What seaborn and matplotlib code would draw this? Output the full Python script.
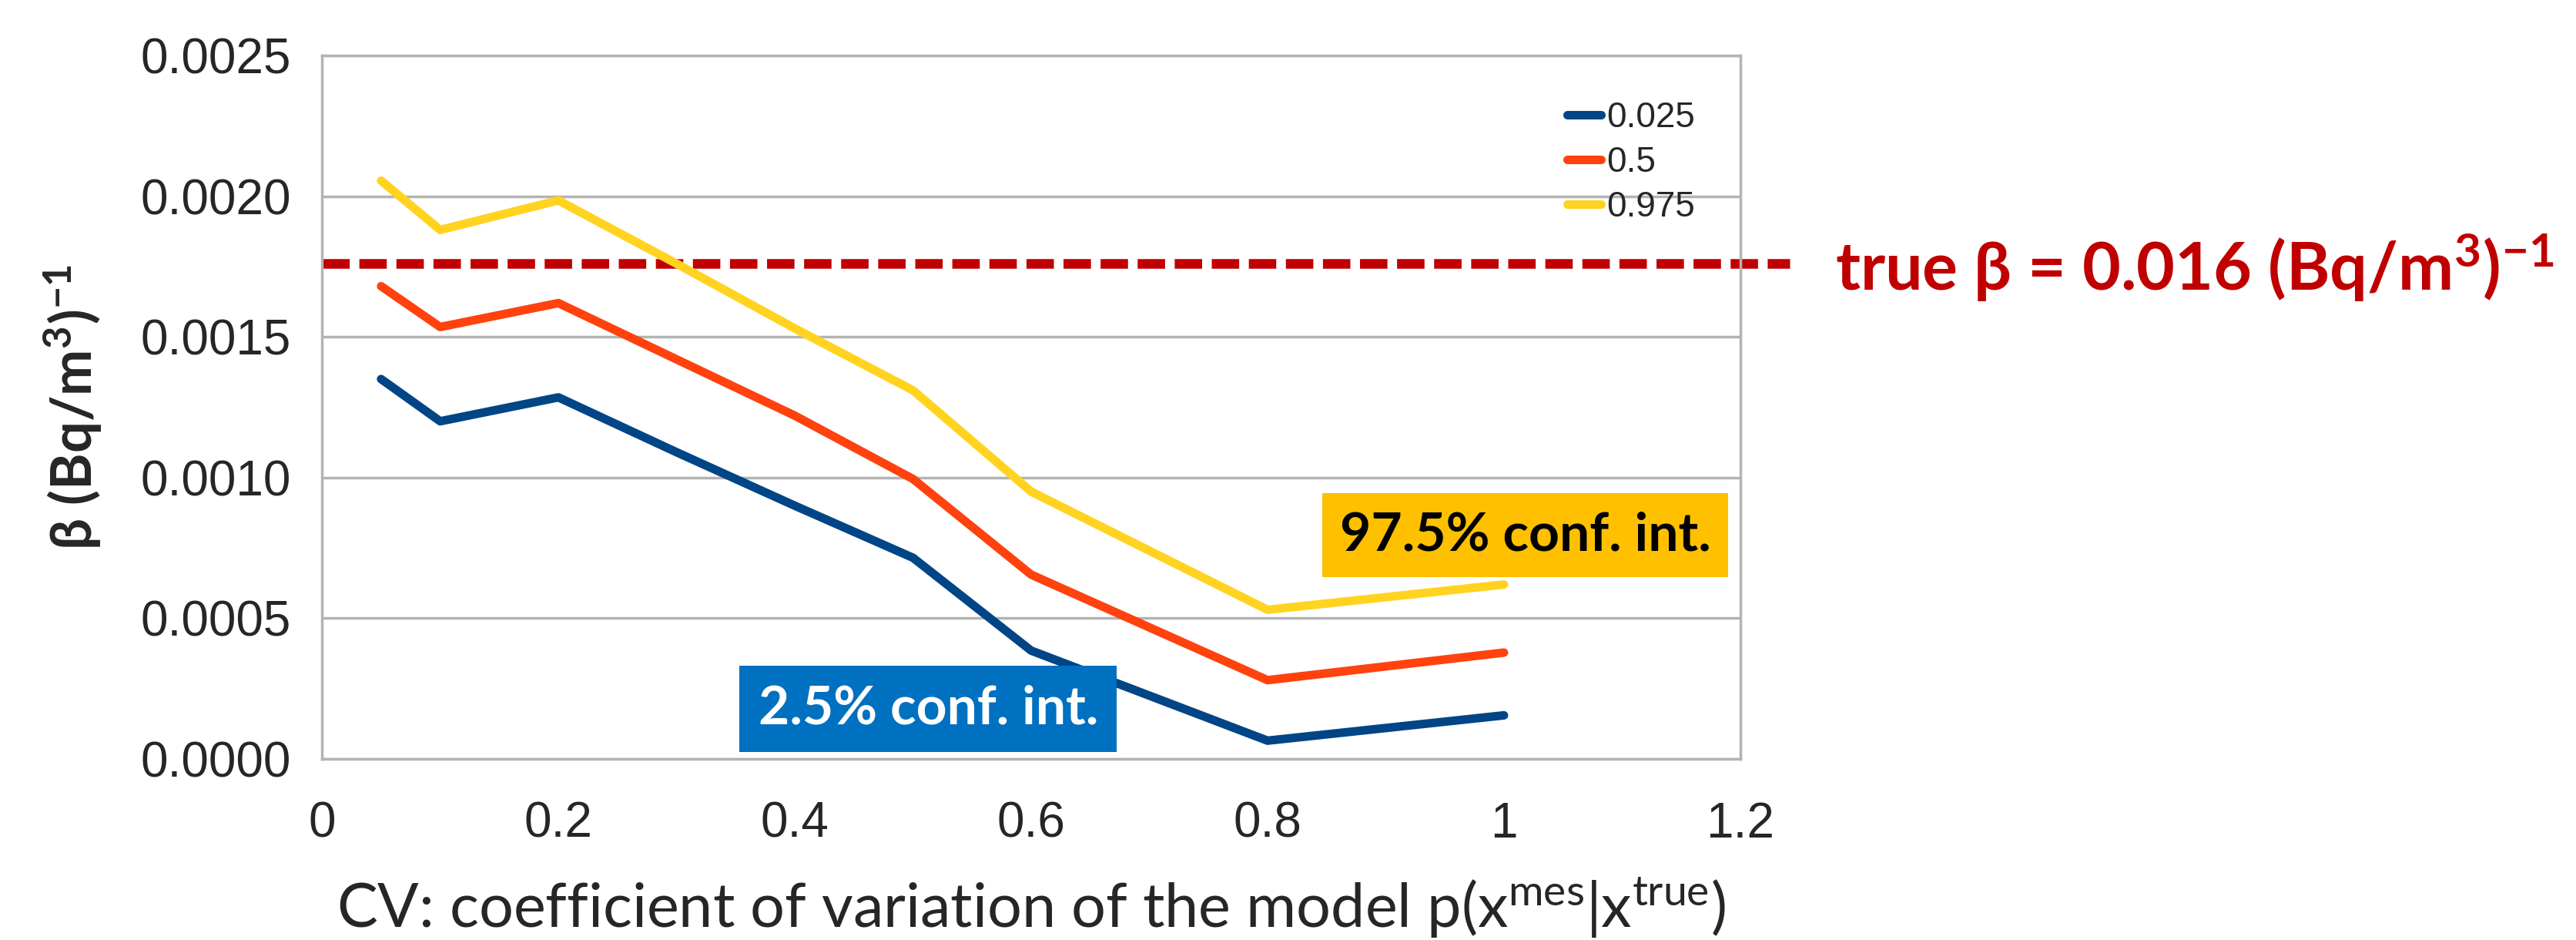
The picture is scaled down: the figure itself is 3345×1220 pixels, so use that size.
import pandas as pd
import matplotlib
matplotlib.use("Agg")
import matplotlib.pyplot as plt
import seaborn as sns
from matplotlib.ticker import FormatStrFormatter, FuncFormatter

# values
cv = [0.05, 0.1, 0.2, 0.3, 0.4, 0.5, 0.6, 0.8, 1.0]
q_025 = [0.00135, 0.00120, 0.001285, 0.00109, 0.00090, 0.000715, 0.000385, 0.000065, 0.000155]
q_500 = [0.00168, 0.001535, 0.00162, 0.00142, 0.00122, 0.000995, 0.000655, 0.00028, 0.000378]
q_975 = [0.002055, 0.00188, 0.001985, 0.00176, 0.00153, 0.00131, 0.00095, 0.00053, 0.00062]
quantile_labels = ["0.025", "0.5", "0.975"]
line_colors = ["#004586", "#FF420E", "#FFD320"]
beta_true = 0.00176
x_ticks = [0, 0.2, 0.4, 0.6, 0.8, 1.0, 1.2]
y_ticks = [0, 0.0005, 0.0010, 0.0015, 0.0020, 0.0025]

sns.set_style("white")
plt.rcParams["font.family"] = ["Liberation Sans", "DejaVu Sans"]
plt.rcParams["mathtext.fontset"] = "custom"
plt.rcParams["mathtext.rm"] = "Lato"
plt.rcParams["mathtext.it"] = "Lato:italic"
plt.rcParams["mathtext.bf"] = "Lato:bold"

df = pd.DataFrame({
    "cv": cv * 3,
    "beta": q_025 + q_500 + q_975,
    "quantile": [q for q in quantile_labels for _ in cv],
})

grey = "#b3b3b3"
fig = plt.figure(figsize=(33.45, 12.2), dpi=100)
ax = fig.add_axes([0.125, 0.1926, 0.5506, 0.7484])

sns.lineplot(data=df, x="cv", y="beta", hue="quantile", hue_order=quantile_labels,
             palette=dict(zip(quantile_labels, line_colors)), linewidth=8,
             estimator=None, sort=False, ax=ax)

ax.set_xlim(0, 1.2)
ax.set_ylim(0, 0.0025)
ax.set_xticks(x_ticks)
ax.set_yticks(y_ticks)
ax.xaxis.set_major_formatter(FuncFormatter(lambda v, p: f"{v:g}"))
ax.yaxis.set_major_formatter(FormatStrFormatter("%.4f"))
ax.tick_params(axis="y", length=21, width=2.5, color=grey, pad=8, labelsize=46)
ax.tick_params(axis="x", length=19.5, width=2.5, color=grey, pad=20, labelsize=46)
ax.grid(axis="y", color=grey, linewidth=2.5)
ax.grid(axis="x", visible=False)
for sp in ax.spines.values():
    sp.set_color(grey)
    sp.set_linewidth(2.5)
ax.set_axisbelow(True)

# true beta reference line, running past the plot frame
ax.axhline(beta_true, xmin=0, xmax=1.035, color="#C00000", linewidth=9,
           dashes=(2.85, 1.0), dash_capstyle="butt", clip_on=False, zorder=1)
ax.text(1.0668, 0.666, "true β = 0.016 (Bq/m$^{\\mathbf{3}}$)$^{\\mathbf{-1}}$",
        transform=ax.transAxes, color="#C00000", fontsize=62, fontweight="bold",
        family=["Lato", "DejaVu Sans"], ha="left", va="baseline")

ax.set_xlabel("CV: coefficient of variation of the model p(x$^{\\mathrm{mes}}$|x$^{\\mathrm{true}}$)",
              fontsize=57, family=["Lato", "DejaVu Sans"], labelpad=26)
ax.set_ylabel("β (Bq/m$^{\\mathbf{3}}$)$^{\\mathbf{-1}}$", fontsize=52, fontweight="bold",
              family=["Lato", "DejaVu Sans"], labelpad=34)

ax.text(0.513, 0.000178, "2.5% conf. int.", ha="center", va="center", color="white",
        fontsize=50, fontweight="bold", family="Lato",
        bbox=dict(boxstyle="square,pad=0.35", fc="#0070C0", ec="none"))
ax.text(1.018, 0.000795, "97.5% conf. int.", ha="center", va="center", color="black",
        fontsize=50, fontweight="bold", family="Lato",
        bbox=dict(boxstyle="square,pad=0.33", fc="#FFC000", ec="none"))

handles, labels = ax.get_legend_handles_labels()
ax.legend(handles, labels, loc="upper left", bbox_to_anchor=(0.878, 0.935), frameon=False,
          fontsize=33, handlelength=0.96, handletextpad=0.15, labelspacing=0.3,
          borderpad=0, borderaxespad=0)

fig.savefig("out.png", dpi=100)
